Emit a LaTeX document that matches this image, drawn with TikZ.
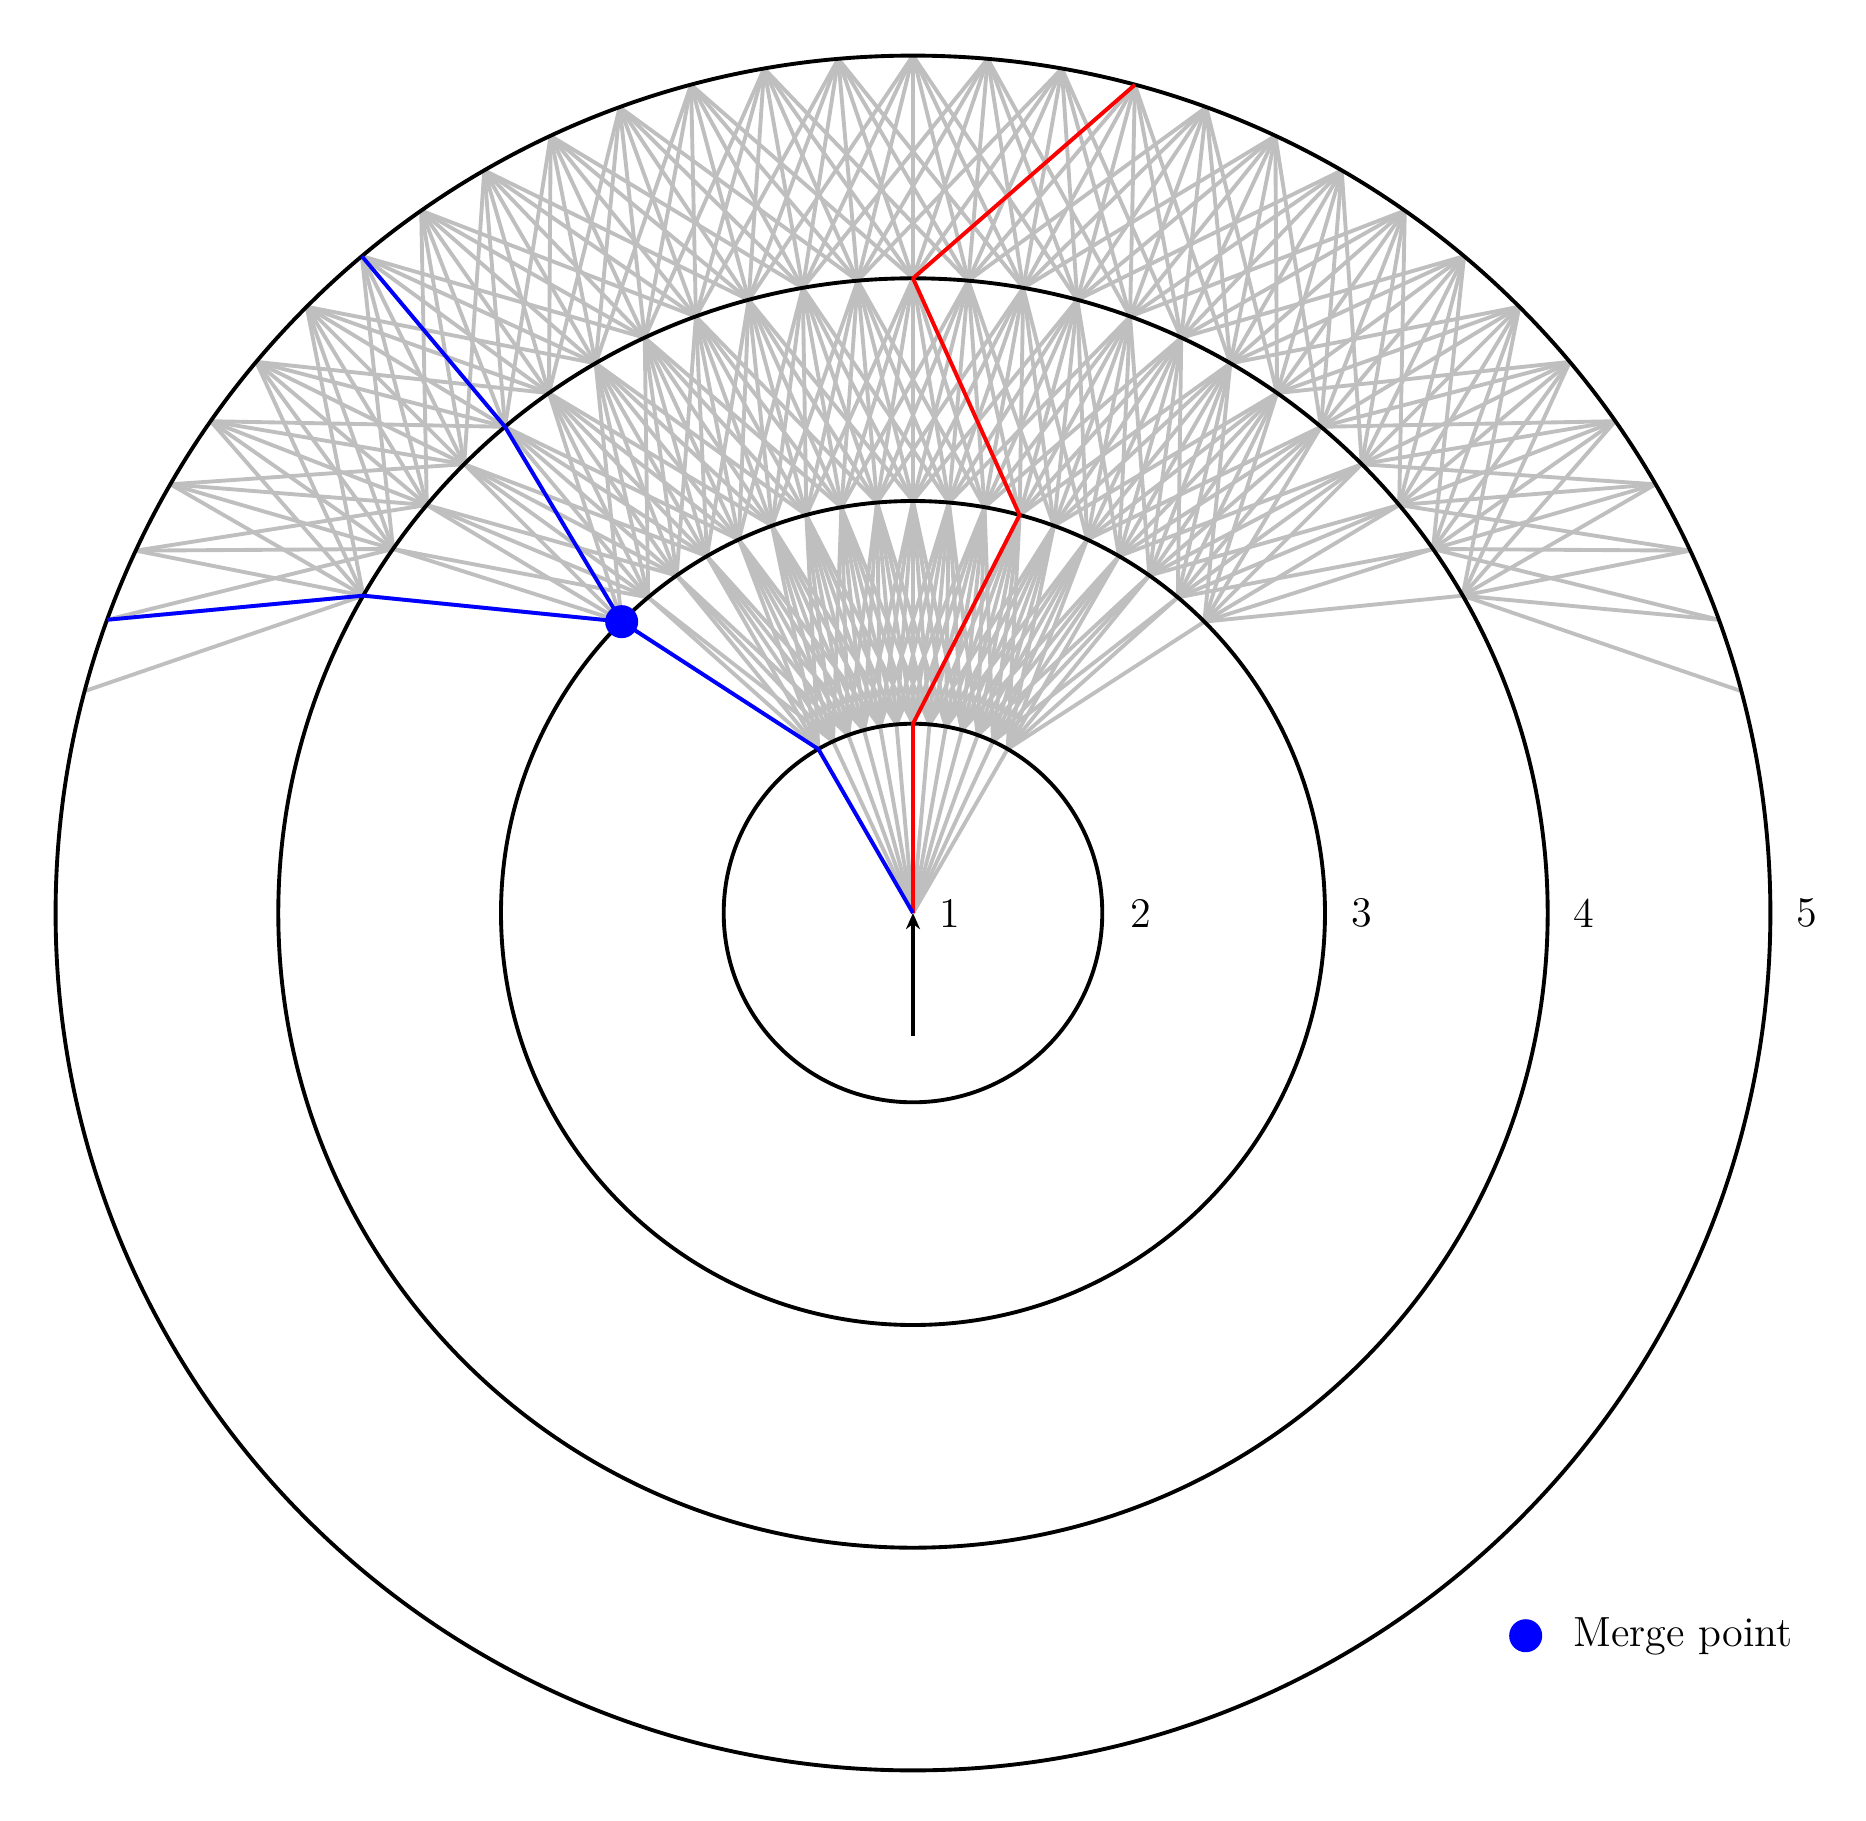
\documentclass[tikz,border=0pt]{standalone}
\usetikzlibrary{arrows.meta}
\begin{document}
\begin{tikzpicture}[x=0.01cm,y=0.01cm,line width=1.1pt,
  edge/.style={draw=lightgray,line width=1.1pt},
  ring/.style={draw=black,line width=1.1pt},
  redpath/.style={draw=red,line width=1.1pt,line join=round},
  bluepath/.style={draw=blue,line width=1.1pt,line join=round},
  mergedot/.style={circle,fill=blue,inner sep=0pt,minimum size=0.33cm},
  lab/.style={inner sep=0pt,font=\fontsize{12}{14}\selectfont}]
\useasboundingbox (-913,-907) rectangle (953,913);
% radii
\def\RB{189.3}\def\RC{412}\def\RD{634.7}\def\RE{857.4}
% node positions
\coordinate (L1) at (0,0);
\foreach \a in {60,65,...,120} \coordinate (L2-\a) at (\a:\RB);
\foreach \a in {45,50,...,135} \coordinate (L3-\a) at (\a:\RC);
\foreach \a in {30,35,...,150} \coordinate (L4-\a) at (\a:\RD);
\foreach \a in {15,20,...,165} \coordinate (L5-\a) at (\a:\RE);
% input arrow
\coordinate (start) at (0,-122.5);
\draw[-{Stealth[length=4.6pt,width=4pt]},line width=1.1pt] (start) -- (L1);
% gray edges
\foreach \a in {60,65,...,120} \draw[edge] (L1) -- (L2-\a);
\foreach \a in {60,65,...,120} {
  \foreach \d in {-15,-10,...,15} {
    \pgfmathtruncatemacro\b{\a+\d}
    \ifnum\b<45 \else\ifnum\b>135 \else
      \draw[edge] (L2-\a) -- (L3-\b);
    \fi\fi
  }
}
\foreach \a in {45,50,...,135} {
  \foreach \d in {-15,-10,...,15} {
    \pgfmathtruncatemacro\b{\a+\d}
    \ifnum\b<30 \else\ifnum\b>150 \else
      \draw[edge] (L3-\a) -- (L4-\b);
    \fi\fi
  }
}
\foreach \a in {30,35,...,150} {
  \foreach \d in {-15,-10,...,15} {
    \pgfmathtruncatemacro\b{\a+\d}
    \ifnum\b<15 \else\ifnum\b>165 \else
      \draw[edge] (L4-\a) -- (L5-\b);
    \fi\fi
  }
}
% rings
\draw[ring] (L1) circle (\RB);
\draw[ring] (L1) circle (\RC);
\draw[ring] (L1) circle (\RD);
\draw[ring] (L1) circle (\RE);
% highlighted paths
\draw[redpath] (L1) -- (L2-90) -- (L3-75) -- (L4-90) -- (L5-75);
\draw[bluepath] (L5-160) -- (L4-150) -- (L3-135) -- (L2-120) -- (L1);
\draw[bluepath] (L3-135) -- (L4-130) -- (L5-130);
\node[mergedot] (merge) at (L3-135) {};
% labels
\node[lab] (t1) at (36.5,0) {1};
\node[lab] (t2) at (228,0) {2};
\node[lab] (t3) at (448.5,0) {3};
\node[lab] (t4) at (671,0) {4};
\node[lab] (t5) at (893.5,0) {5};
% legend
\node[mergedot] (legdot) at (612.7,-722.7) {};
\node[lab,anchor=base west] (legtext) at (658.7,-733.7) {Merge point};
\end{tikzpicture}
\end{document}
